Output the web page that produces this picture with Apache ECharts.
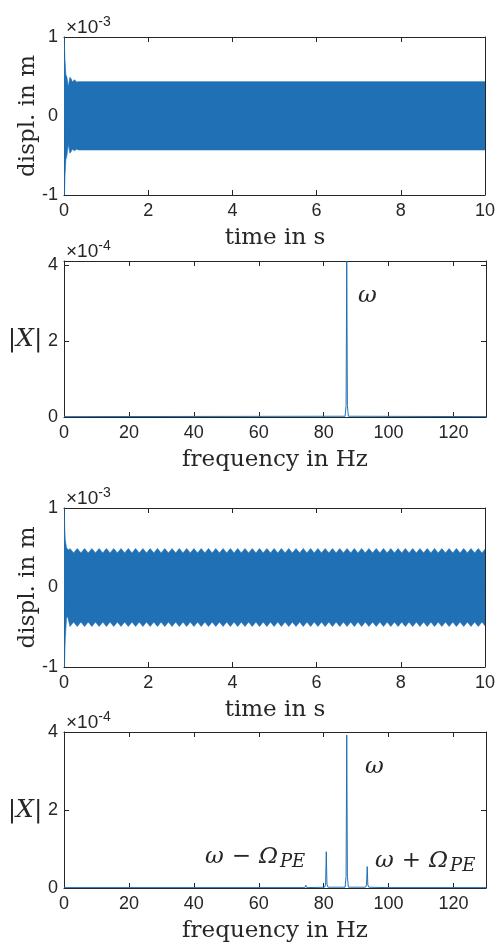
<!DOCTYPE html>
<html>
<head>
<meta charset="utf-8">
<script src="https://cdn.jsdelivr.net/npm/echarts@6/dist/echarts.min.js"></script>
<style>
  html, body { margin: 0; padding: 0; background: #ffffff; }
  #chart { width: 498px; height: 943px; }
</style>
</head>
<body>
<div id="chart"></div>
<script>
// ---- Response without excitation: displacement envelope, units of 1e-3 m ----
const time1  = [0, 0.01, 0.025, 0.045, 0.07, 0.1, 0.14, 0.17, 0.2, 0.25, 0.3, 0.35, 10];
const upper1 = [1.0, 0.9, 0.7, 0.52, 0.49, 0.37, 0.49, 0.47, 0.43, 0.46, 0.43, 0.435, 0.435];
const lower1 = [0, -1.0, -0.75, -0.55, -0.5, -0.36, -0.47, -0.45, -0.42, -0.44, -0.42, -0.43, -0.43];

// ---- Its amplitude spectrum, units of 1e-4 ----
const freq2 = [0, 86.6, 86.9, 87.1, 87.3, 87.6, 130];
const mag2  = [0.01, 0.02, 0.3, 4.11, 0.3, 0.02, 0.01];

// ---- Response with parametric excitation: start-up, then beating envelope ----
const time3Head  = [0, 0.01, 0.03, 0.06, 0.09, 0.12];
const upper3Head = [1.0, 0.85, 0.6, 0.5, 0.48, 0.47];
const lower3Head = [0, -1.0, -0.65, -0.38, -0.37, -0.44];
const beatStart3 = 0.142;   // s, first crest of the beating envelope
const beatStep3  = 0.0866;  // s, crest-to-trough spacing of the envelope samples
const upper3Beat = [
  0.49, 0.435, 0.49, 0.435, 0.49, 0.435, 0.49, 0.435, 0.49, 0.435,
  0.49, 0.435, 0.49, 0.435, 0.49, 0.435, 0.49, 0.435, 0.49, 0.435,
  0.49, 0.435, 0.49, 0.435, 0.49, 0.435, 0.49, 0.435, 0.49, 0.435,
  0.49, 0.435, 0.49, 0.435, 0.49, 0.435, 0.49, 0.435, 0.49, 0.435,
  0.49, 0.435, 0.49, 0.435, 0.49, 0.435, 0.49, 0.435, 0.49, 0.435,
  0.49, 0.435, 0.49, 0.435, 0.49, 0.435, 0.49, 0.435, 0.49, 0.435,
  0.49, 0.435, 0.49, 0.435, 0.49, 0.435, 0.49, 0.435, 0.49, 0.435,
  0.49, 0.435, 0.49, 0.435, 0.49, 0.435, 0.49, 0.435, 0.49, 0.435,
  0.49, 0.435, 0.49, 0.435, 0.49, 0.435, 0.49, 0.435, 0.49, 0.435,
  0.49, 0.435, 0.49, 0.435, 0.49, 0.435, 0.49, 0.435, 0.49, 0.435,
  0.49, 0.435, 0.49, 0.435, 0.49, 0.435, 0.49, 0.435, 0.49, 0.435,
  0.49, 0.435, 0.49, 0.435
];
const lower3Beat = [
  -0.49, -0.435, -0.49, -0.435, -0.49, -0.435, -0.49, -0.435, -0.49, -0.435,
  -0.49, -0.435, -0.49, -0.435, -0.49, -0.435, -0.49, -0.435, -0.49, -0.435,
  -0.49, -0.435, -0.49, -0.435, -0.49, -0.435, -0.49, -0.435, -0.49, -0.435,
  -0.49, -0.435, -0.49, -0.435, -0.49, -0.435, -0.49, -0.435, -0.49, -0.435,
  -0.49, -0.435, -0.49, -0.435, -0.49, -0.435, -0.49, -0.435, -0.49, -0.435,
  -0.49, -0.435, -0.49, -0.435, -0.49, -0.435, -0.49, -0.435, -0.49, -0.435,
  -0.49, -0.435, -0.49, -0.435, -0.49, -0.435, -0.49, -0.435, -0.49, -0.435,
  -0.49, -0.435, -0.49, -0.435, -0.49, -0.435, -0.49, -0.435, -0.49, -0.435,
  -0.49, -0.435, -0.49, -0.435, -0.49, -0.435, -0.49, -0.435, -0.49, -0.435,
  -0.49, -0.435, -0.49, -0.435, -0.49, -0.435, -0.49, -0.435, -0.49, -0.435,
  -0.49, -0.435, -0.49, -0.435, -0.49, -0.435, -0.49, -0.435, -0.49, -0.435,
  -0.49, -0.435, -0.49, -0.435
];
const upper3End = 0.48;
const lower3End = -0.48;

// ---- Its amplitude spectrum with sidebands, units of 1e-4 ----
const freq4 = [0, 74.2, 74.5, 74.8, 80.3, 80.6, 80.8, 81.0, 81.3,
               86.6, 86.9, 87.1, 87.3, 87.6, 92.9, 93.2, 93.4, 93.6, 93.9,
               99.5, 99.8, 100.1, 130];
const mag4  = [0.01, 0.01, 0.07, 0.01, 0.02, 0.1, 0.93, 0.1, 0.02,
               0.02, 0.3, 3.92, 0.3, 0.02, 0.02, 0.08, 0.55, 0.08, 0.02,
               0.01, 0.05, 0.01, 0.01];

// ---- Axis tick settings ----
const timeTicks = { min: 0, max: 10, interval: 2 };
const freqTicks = { min: 0, max: 130, interval: 20 };
const displTicks = { min: -1, max: 1, interval: 1 };
const spec2Ticks = { min: 0, max: 4.11, interval: 2 };
const spec4Ticks = { min: 0, max: 4, interval: 2 };
const exponents = ['-3', '-4', '-3', '-4'];

const BLUE = '#1f70b5';
const INK = '#262626';
const SERIF = '"DejaVu Serif", serif';
const SANS = '"Liberation Sans", Arial, sans-serif';

const grids = [
  { left: 64, top: 37,  width: 422, height: 158 },
  { left: 64, top: 261, width: 422, height: 156 },
  { left: 64, top: 508, width: 422, height: 159 },
  { left: 64, top: 732, width: 422, height: 156 }
];

const time3 = time3Head.concat(upper3Beat.map((_, i) => beatStart3 + i * beatStep3), [10]);
const upper3 = upper3Head.concat(upper3Beat, [upper3End]);
const lower3 = lower3Head.concat(lower3Beat, [lower3End]);

function tickLabelFmt(step) {
  return v => (Math.abs(v / step - Math.round(v / step)) < 1e-9 ? String(v) : '');
}

function makeAxes(gi, ticks, kind) {
  const common = {
    gridIndex: gi, type: 'value',
    min: ticks.min, max: ticks.max, interval: ticks.interval,
    splitLine: { show: false },
    axisLine: { show: true, onZero: false, lineStyle: { color: INK, width: 1 } },
    axisTick: { show: true, inside: true, length: 5, lineStyle: { color: INK, width: 1 } }
  };
  const labelStyle = { color: INK, fontFamily: SANS, fontSize: 18, formatter: tickLabelFmt(ticks.interval) };
  if (kind === 'x') {
    return [
      Object.assign({}, common, { position: 'bottom', axisLabel: Object.assign({ margin: 7 }, labelStyle) }),
      Object.assign({}, common, { position: 'top', axisLabel: { show: false } })
    ];
  }
  return [
    Object.assign({}, common, { position: 'left', axisLabel: Object.assign({ margin: 6 }, labelStyle) }),
    Object.assign({}, common, { position: 'right', axisLabel: { show: false } })
  ];
}

// A dense oscillation drawn as the filled band between its upper and lower envelopes
function bandSeries(gi, t, up, lo) {
  const data = t.map((x, i) => [x, up[i], lo[i]]);
  return {
    type: 'custom', xAxisIndex: 2 * gi, yAxisIndex: 2 * gi,
    data: data, encode: { x: 0, y: [1, 2] },
    clip: true, silent: true, animation: false,
    renderItem: function (params, api) {
      if (params.dataIndex !== 0) return null;
      const top = data.map(d => api.coord([d[0], d[1]]));
      const bot = data.slice().reverse().map(d => api.coord([d[0], d[2]]));
      return {
        type: 'polygon',
        shape: { points: top.concat(bot) },
        style: { fill: BLUE, stroke: BLUE, lineWidth: 0.6 }
      };
    }
  };
}

function spectrumSeries(gi, f, m) {
  return {
    type: 'line', xAxisIndex: 2 * gi, yAxisIndex: 2 * gi,
    data: f.map((x, i) => [x, m[i]]),
    symbol: 'none', silent: true, animation: false,
    lineStyle: { color: BLUE, width: 1 }
  };
}

const xAxes = [].concat(
  makeAxes(0, timeTicks, 'x'), makeAxes(1, freqTicks, 'x'),
  makeAxes(2, timeTicks, 'x'), makeAxes(3, freqTicks, 'x')
);
const yAxes = [].concat(
  makeAxes(0, displTicks, 'y'), makeAxes(1, spec2Ticks, 'y'),
  makeAxes(2, displTicks, 'y'), makeAxes(3, spec4Ticks, 'y')
);

const series = [
  bandSeries(0, time1, upper1, lower1),
  spectrumSeries(1, freq2, mag2),
  bandSeries(2, time3, upper3, lower3),
  spectrumSeries(3, freq4, mag4)
];

const chart = echarts.init(document.getElementById('chart'), null, { renderer: 'canvas' });
chart.setOption({
  animation: false,
  backgroundColor: '#ffffff',
  grid: grids.map(g => Object.assign({ containLabel: false }, g)),
  xAxis: xAxes,
  yAxis: yAxes,
  series: series
});

// ---- Text: axis titles, exponent labels, peak annotations ----
const xTitles = ['time in s', 'frequency in Hz', 'time in s', 'frequency in Hz'];
const yTitleRich = {
  u: { font: '25px ' + SERIF, fill: INK },
  i: { font: 'italic 25px ' + SERIF, fill: INK }
};
const graphics = [];
grids.forEach((g, gi) => {
  const cx = g.left + g.width / 2;
  const cy = g.top + g.height / 2;
  const bottom = g.top + g.height;
  graphics.push({
    type: 'text', x: cx, y: bottom + 43, silent: true,
    style: { text: xTitles[gi], font: '23px ' + SERIF, fill: INK, align: 'center', verticalAlign: 'middle' }
  });
  if (gi % 2 === 0) {
    graphics.push({
      type: 'text', x: 28, y: cy, rotation: Math.PI / 2, silent: true,
      style: { text: 'displ. in m', font: '23px ' + SERIF, fill: INK, align: 'center', verticalAlign: 'middle' }
    });
  } else {
    graphics.push({
      type: 'text', x: 25, y: cy, silent: true,
      style: { text: '{u||}{i|X}{u||}', rich: yTitleRich, align: 'center', verticalAlign: 'middle' }
    });
  }
  graphics.push({
    type: 'text', x: 66, y: g.top - 22, silent: true,
    style: {
      text: '{a|×10}{b|' + exponents[gi] + '}',
      align: 'left', verticalAlign: 'top',
      rich: {
        a: { font: '19px ' + SANS, fill: INK, lineHeight: 22, verticalAlign: 'bottom' },
        b: { font: '14px ' + SANS, fill: INK, lineHeight: 14, verticalAlign: 'top' }
      }
    }
  });
});

const mathRich = {
  m: { font: 'italic 23px ' + SERIF, fill: INK, lineHeight: 30 },
  op: { font: '23px ' + SERIF, fill: INK, lineHeight: 30, padding: [0, 8, 0, 8] },
  s: { font: 'italic 18px ' + SERIF, fill: INK, lineHeight: 18, verticalAlign: 'bottom', padding: [0, 0, 0, 2] }
};
const annotations = [
  { grid: 1, at: [90.6, 3.2], text: '{m|ω}' },
  { grid: 3, at: [92.7, 3.1], text: '{m|ω}' },
  { grid: 3, at: [43.4, 0.8], text: '{m|ω}{op|−}{m|Ω}{s|PE}' },
  { grid: 3, at: [95.8, 0.7], text: '{m|ω}{op|+}{m|Ω}{s|PE}' }
];
annotations.forEach(a => {
  const p = chart.convertToPixel({ xAxisIndex: 2 * a.grid, yAxisIndex: 2 * a.grid }, a.at);
  graphics.push({
    type: 'text', x: p[0], y: p[1], silent: true,
    style: { text: a.text, rich: mathRich, align: 'left', verticalAlign: 'middle' }
  });
});

chart.setOption({ graphic: graphics });
</script>
</body>
</html>
